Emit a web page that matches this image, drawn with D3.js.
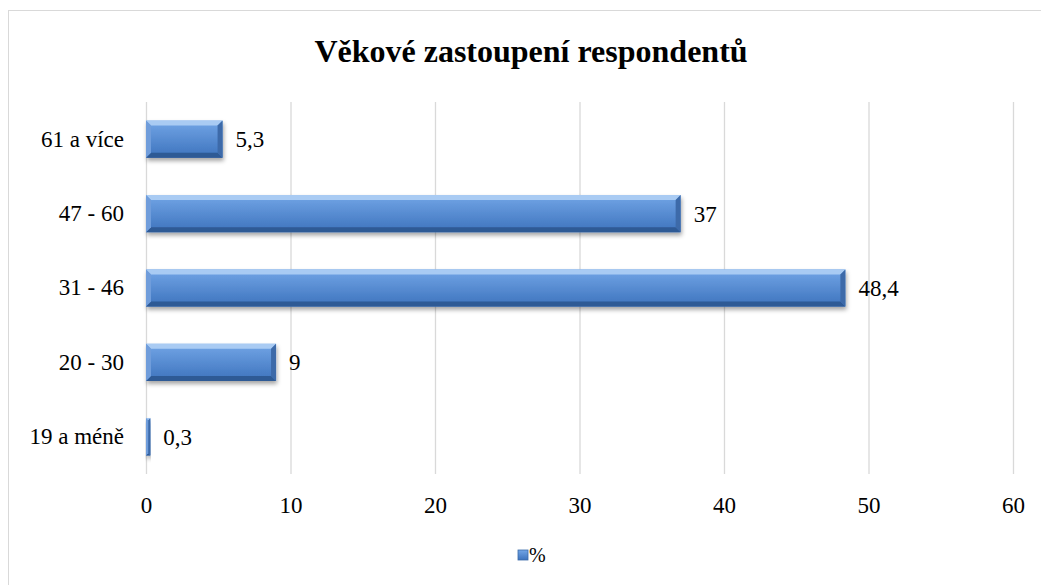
<!DOCTYPE html>
<html>
<head>
<meta charset="utf-8">
<script src="https://cdn.jsdelivr.net/npm/d3@7"></script>
<style>
  body { margin: 0; background: #fff; }
</style>
</head>
<body>
<div id="chart"></div>
<script>
// data
const categories = ["61 a více", "47 - 60", "31 - 46", "20 - 30", "19 a méně"];
const values = [5.3, 37, 48.4, 9, 0.3];
const valueLabels = ["5,3", "37", "48,4", "9", "0,3"];
const xTicks = [0, 10, 20, 30, 40, 50, 60];
const seriesName = "%";
const chartTitle = "Věkové zastoupení respondentů";

const W = 1041, H = 585;
const margin = {top: 102, right: 28, bottom: 111, left: 146};
const fontName = "'Liberation Serif'";
const labelSize = 23;

const svg = d3.select("#chart").append("svg")
    .attr("width", W)
    .attr("height", H);

// gradients for the bevelled bars
const defs = svg.append("defs");
const face = defs.append("linearGradient")
    .attr("id", "barFace").attr("x1", 0).attr("y1", 0).attr("x2", 0).attr("y2", 1);
face.append("stop").attr("offset", "0%").attr("stop-color", "#72a5e6");
face.append("stop").attr("offset", "100%").attr("stop-color", "#3d73bd");

const shadow = defs.append("filter").attr("id", "shadow")
    .attr("x", "-5%").attr("y", "-20%").attr("width", "115%").attr("height", "160%");
shadow.append("feDropShadow")
    .attr("dx", 1).attr("dy", 3).attr("stdDeviation", 2)
    .attr("flood-color", "#000").attr("flood-opacity", 0.35);

// outer chart border (right / bottom fall outside the picture)
svg.append("rect")
    .attr("x", 8.5).attr("y", 10.5)
    .attr("width", W).attr("height", H)
    .attr("fill", "none")
    .attr("stroke", "#d9d9d9");

const width = W - margin.left - margin.right;
const height = H - margin.top - margin.bottom;

const g = svg.append("g")
    .attr("transform", "translate(" + margin.left + "," + margin.top + ")");

const xScale = d3.scaleLinear().domain([0, 60]).range([0, width]);
const yScale = d3.scaleBand().domain(categories).range([0, height]).paddingInner(0.5).paddingOuter(0.25);

// vertical gridlines
g.selectAll(".grid")
    .data(xTicks)
    .join("line")
    .attr("class", "grid")
    .attr("x1", d => xScale(d) + 0.5)
    .attr("x2", d => xScale(d) + 0.5)
    .attr("y1", 0)
    .attr("y2", height)
    .attr("stroke", "#d9d9d9")
    .attr("stroke-width", 1.3);

// x axis labels
const xAxis = g.append("g")
    .attr("class", "xAxisG")
    .attr("transform", "translate(0," + height + ")")
    .call(d3.axisBottom(xScale).tickValues(xTicks).tickSize(0).tickPadding(23));
xAxis.select(".domain").remove();
xAxis.selectAll("text")
    .style("font-family", fontName)
    .attr("font-size", labelSize)
    .attr("fill", "#000");

// y axis labels
const yAxis = g.append("g")
    .attr("class", "yAxisG")
    .call(d3.axisLeft(yScale).tickSize(0).tickPadding(22));
yAxis.select(".domain").remove();
yAxis.selectAll("text")
    .style("font-family", fontName)
    .attr("font-size", labelSize)
    .attr("fill", "#000");

// bars
const data = categories.map((c, i) => ({cat: c, value: values[i], label: valueLabels[i]}));
const bev = 5;

const barG = g.selectAll(".barG")
    .data(data)
    .join("g")
    .attr("class", "barG")
    .attr("transform", d => "translate(0," + yScale(d.cat) + ")");

barG.each(function (d) {
    const sel = d3.select(this);
    const w = xScale(d.value) - xScale(0);
    const h = yScale.bandwidth();
    const b = Math.min(bev, w / 2);
    const grp = sel.append("g").attr("filter", "url(#shadow)");
    grp.append("rect")
        .attr("x", 0).attr("y", 0)
        .attr("width", w).attr("height", h)
        .attr("fill", "url(#barFace)");
    // top bevel
    grp.append("polygon")
        .attr("points", [[0, 0], [w, 0], [w - b, b], [b, b]].join(" "))
        .attr("fill", "#a9cbf3");
    // bottom bevel
    grp.append("polygon")
        .attr("points", [[0, h], [w, h], [w - b, h - b], [b, h - b]].join(" "))
        .attr("fill", "#2f5a95");
    // right bevel
    grp.append("polygon")
        .attr("points", [[w, 0], [w, h], [w - b, h - b], [w - b, b]].join(" "))
        .attr("fill", "#3c6aa9");
    // left bevel
    grp.append("polygon")
        .attr("points", [[0, 0], [0, h], [b, h - b], [b, b]].join(" "))
        .attr("fill", "#6f9ddb");
    sel.append("text")
        .attr("x", w + 13)
        .attr("y", h / 2)
        .attr("dy", "0.35em")
        .style("font-family", fontName)
        .attr("font-size", labelSize)
        .attr("fill", "#000")
        .text(d.label);
});

// title
svg.append("text")
    .attr("x", 531)
    .attr("y", 62)
    .attr("text-anchor", "middle")
    .style("font-family", fontName)
    .attr("font-size", 32)
    .attr("font-weight", "bold")
    .attr("fill", "#000")
    .text(chartTitle);

// legend
const legend = svg.append("g").attr("transform", "translate(518,550)");
legend.append("rect")
    .attr("x", 0).attr("y", 0)
    .attr("width", 10).attr("height", 10)
    .attr("fill", "url(#barFace)")
    .attr("stroke", "#3b6aa8").attr("stroke-width", 0.8);
legend.append("text")
    .attr("x", 11).attr("y", 12)
    .style("font-family", fontName)
    .attr("font-size", 20)
    .attr("fill", "#000")
    .text(seriesName);
</script>
</body>
</html>
